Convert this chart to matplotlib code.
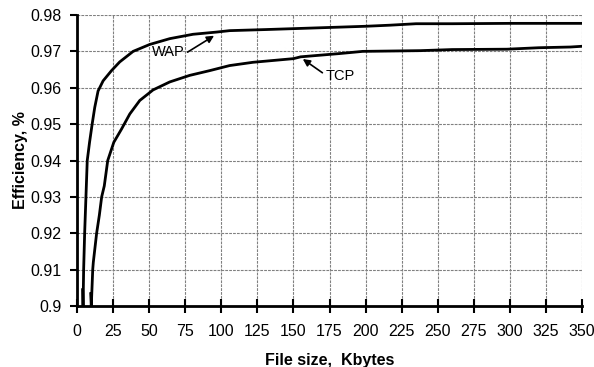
import matplotlib
matplotlib.use("Agg")
import matplotlib.pyplot as plt

plt.rcParams['font.family'] = ['Liberation Sans', 'DejaVu Sans']

wap_x = [3.9, 4.2, 4.6, 5.3, 6.2, 7.1, 8.7, 10.5, 12.3, 14.6, 18.1, 23.9, 29.6, 38.9, 50.4, 64.3, 80.4, 96.6, 105.8, 131.0, 154.0, 177.0, 200.0, 217.0, 235.0, 260.0, 300.0, 350.0]
wap_y = [0.9045, 0.9, 0.91, 0.92, 0.93, 0.94, 0.945, 0.95, 0.9546, 0.9591, 0.9619, 0.9647, 0.9671, 0.970, 0.9719, 0.9735, 0.9747, 0.9753, 0.9757, 0.976, 0.9763, 0.9766, 0.9769, 0.9772, 0.9776, 0.9776, 0.9777, 0.9777]

tcp_x = [9.5, 9.9, 10.9, 11.3, 13.6, 15.5, 17.1, 18.9, 21.3, 25.5, 30.8, 36.6, 43.5, 52.7, 64.3, 78.1, 91.9, 105.8, 122.0, 150.0, 155.0, 182.0, 198.0, 238.0, 260.0, 298.0, 320.0, 342.0, 350.0]
tcp_y = [0.9034, 0.9, 0.91, 0.912, 0.92, 0.925, 0.93, 0.933, 0.94, 0.945, 0.9486, 0.9528, 0.9565, 0.9594, 0.9616, 0.9634, 0.9647, 0.9661, 0.967, 0.968, 0.9685, 0.9694, 0.970, 0.9702, 0.9705, 0.9706, 0.971, 0.9712, 0.9714]

x_ticks = list(range(0, 351, 25))
y_ticks = [0.9, 0.91, 0.92, 0.93, 0.94, 0.95, 0.96, 0.97, 0.98]
y_tick_labels = ['0.9', '0.91', '0.92', '0.93', '0.94', '0.95', '0.96', '0.97', '0.98']

fig = plt.figure(figsize=(5.94, 3.67), dpi=100)
ax = fig.add_axes([77/594, 1 - 306/367, (582-77)/594, (306-15)/367])

ax.plot(wap_x, wap_y, color='black', lw=2.0, solid_joinstyle='miter')
ax.plot(tcp_x, tcp_y, color='black', lw=2.0, solid_joinstyle='miter')

ax.set_xlim(0, 350)
ax.set_ylim(0.9, 0.98)
ax.set_xticks(x_ticks)
ax.set_yticks(y_ticks)
ax.set_yticklabels(y_tick_labels)
ax.grid(True, color='#808080', linestyle=(0, (2.5, 1)), linewidth=0.8)
ax.set_axisbelow(True)
for s in ['top', 'right']:
    ax.spines[s].set_visible(False)
for s in ['left', 'bottom']:
    ax.spines[s].set_linewidth(2.0)
ax.tick_params(axis='x', direction='inout', length=10, width=1.5, labelsize=11.5, pad=8)
ax.tick_params(axis='y', direction='out', length=5, width=1.5, labelsize=11.5, pad=6)

ax.set_xlabel('File size,  Kbytes', fontsize=11.5, fontweight='bold', labelpad=10)
ax.set_ylabel('Efficiency, %', fontsize=11.5, fontweight='bold', labelpad=2)

ax.annotate('WAP', xy=(95, 0.9743), xytext=(52, 0.9697), fontsize=10.5,
            va='center', ha='left',
            arrowprops=dict(arrowstyle='-|>', color='black', lw=1.2, shrinkA=0, shrinkB=0,
                            relpos=(1, 0.4)))
ax.annotate('TCP', xy=(156.5, 0.9679), xytext=(172, 0.9632), fontsize=10.5,
            va='center', ha='left',
            arrowprops=dict(arrowstyle='-|>', color='black', lw=1.2, shrinkA=0, shrinkB=0,
                            relpos=(0, 0.6)))

fig.savefig('out.png', dpi=100)
